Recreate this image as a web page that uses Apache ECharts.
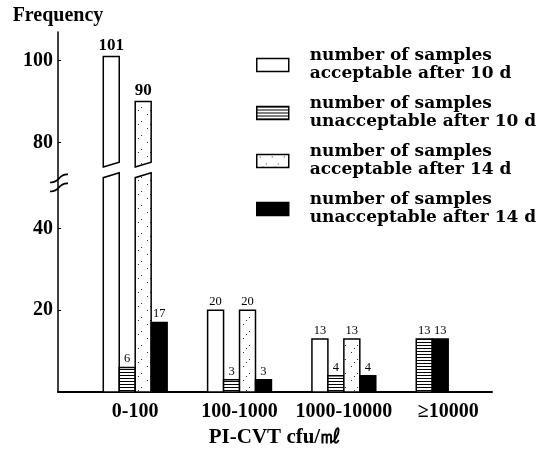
<!DOCTYPE html>
<html><head><meta charset="utf-8">
<script src="https://cdn.jsdelivr.net/npm/echarts@6/dist/echarts.min.js"></script>
<style>html,body{margin:0;padding:0;background:#fff}#c{width:543px;height:453px}</style>
</head><body><div id="c"></div>
<script>
const categories = ['0-100', '100-1000', '1000-10000', '\u226510000'];
const seriesNames = [
  'number of samples acceptable after 10 d',
  'number of samples unacceptable after 10 d',
  'number of samples acceptable after 14 d',
  'number of samples unacceptable after 14 d'
];
const acceptable10 = [101, 20, 13, 0];
const unacceptable10 = [6, 3, 4, 13];
const acceptable14 = [90, 20, 13, 0];
const unacceptable14 = [17, 3, 4, 13];
const yTickValues = [20, 40, 80, 100];
const breakFrom = 50, breakShift = 19;

const allValues = [acceptable10, unacceptable10, acceptable14, unacceptable14];
function toDisplay(v) { return v > breakFrom ? v - breakShift : v; }
function fromDisplay(d) { return d > breakFrom ? Math.round(d + breakShift) : Math.round(d); }

// slot arrangement: bars present in each category are packed from the left
const slots = categories.map((c, j) => allValues.map((a, i) => a[j] > 0 ? i : -1).filter(i => i >= 0));

function hatchCanvas() {
  const c = document.createElement('canvas'); c.width = 4; c.height = 3;
  const g = c.getContext('2d'); g.fillStyle = '#fff'; g.fillRect(0, 0, 4, 3);
  g.fillStyle = '#000'; g.fillRect(0, 0, 4, 1); return c;
}
function dotCanvas() {
  const c = document.createElement('canvas'); c.width = 12; c.height = 14;
  const g = c.getContext('2d'); g.fillStyle = '#fff'; g.fillRect(0, 0, 12, 14);
  g.fillStyle = '#333'; g.fillRect(3, 2, 1, 1); g.fillRect(9, 9, 1, 1); g.fillRect(6, 12, 1, 1);
  return c;
}
const fills = ['#fff', {image: hatchCanvas(), repeat: 'repeat'}, {image: dotCanvas(), repeat: 'repeat'}, '#000'];

function renderBar(params, api) {
  const si = params.seriesIndex;
  const cat = api.value(0), real = api.value(2);
  if (!real) return null;
  const slot = slots[cat].indexOf(si);
  const unit = api.size([1, 0])[0];
  const bw = unit * 0.153;
  const base = api.coord([cat, 0]);
  const x0 = base[0] - 2 * bw + slot * bw;
  const x1 = x0 + bw;
  const yB = base[1];
  const yT = api.coord([cat, api.value(1)])[1];
  const style = {fill: fills[si], stroke: '#000', lineWidth: 1.5};
  const children = [];
  if (real > breakFrom) {
    const yc = v => api.coord([cat, v])[1];
    children.push({type: 'polygon', shape: {points: [[x0, yB], [x1, yB], [x1, yc(53.6)], [x0, yc(52.4)]]}, style});
    children.push({type: 'polygon', shape: {points: [[x0, yc(55)], [x1, yc(56.2)], [x1, yT], [x0, yT]]}, style});
  } else {
    children.push({type: 'rect', shape: {x: x0, y: yT, width: bw, height: yB - yT}, style});
  }
  children.push({type: 'text', x: (x0 + x1) / 2, y: yT - 2, style: {
    text: String(real), align: 'center', verticalAlign: 'bottom', fill: '#000',
    font: real > breakFrom ? 'bold 17px "Liberation Serif"' : '12.5px "Liberation Serif"'}});
  return {type: 'group', children};
}

const chart = echarts.init(document.getElementById('c'), null, {renderer: 'canvas'});
const serif = '"Liberation Serif", serif';
chart.setOption({
  animation: false,
  textStyle: {fontFamily: serif, color: '#000'},
  grid: {left: 58, right: 51, top: 32, bottom: 60},
  legend: {
    orient: 'vertical', left: 251, top: 42, itemWidth: 32, itemHeight: 13, itemGap: 12,
    icon: 'rect', selectedMode: false,
    data: seriesNames.map((n, i) => ({name: n, itemStyle: {color: fills[i], borderColor: '#000', borderWidth: 1.5}})),
    formatter: n => n.replace('samples ', 'samples\n'),
    textStyle: {fontFamily: '"DejaVu Serif", serif', fontWeight: 'bold', fontSize: 17, lineHeight: 18, color: '#000', padding: [0, 0, 0, 16]}
  },
  xAxis: {
    type: 'value', min: -0.74, max: 3.42,
    splitLine: {show: false},
    axisLine: {show: true, onZero: false, lineStyle: {color: '#000', width: 2}},
    axisTick: {show: false},
    axisLabel: {customValues: categories.map((c, i) => i), formatter: v => categories[Math.round(v)] || '',
      fontFamily: serif, fontWeight: 'bold', fontSize: 20, color: '#000', margin: 10},
    name: 'PI-CVT cfu/\u3396', nameLocation: 'middle', nameGap: 34,
    nameTextStyle: {fontFamily: serif, fontWeight: 'bold', fontSize: 21, color: '#000'}
  },
  yAxis: {
    type: 'value', min: 0, max: 88,
    splitLine: {show: false},
    axisLine: {show: true, onZero: false, lineStyle: {color: '#000', width: 1.5}},
    axisTick: {show: true, inside: true, length: 3, customValues: yTickValues.map(toDisplay), lineStyle: {color: '#000'}},
    axisLabel: {customValues: yTickValues.map(toDisplay), formatter: d => String(fromDisplay(d)),
      fontFamily: serif, fontWeight: 'bold', fontSize: 20, color: '#000', margin: 5},
    name: 'Frequency', nameLocation: 'end', nameGap: 6,
    nameTextStyle: {fontFamily: serif, fontWeight: 'bold', fontSize: 20, color: '#000', align: 'center'}
  },
  series: seriesNames.map((n, i) => ({
    type: 'custom', name: n, renderItem: renderBar,
    itemStyle: {color: fills[i], borderColor: '#000', borderWidth: 1.5},
    encode: {x: 0, y: 1},
    data: categories.map((c, j) => [j, toDisplay(allValues[i][j]), allValues[i][j]])
  }))
});

// axis break mark
const p = chart.convertToPixel({xAxisIndex: 0, yAxisIndex: 0}, [-0.74, 51]);
const bx = p[0], by = p[1];
function sCurve(x, y) {
  return {type: 'bezierCurve', shape: {x1: x - 8, y1: y, x2: x + 10, y2: y - 8, cpx1: x + 2, cpy1: y + 1, cpx2: x, cpy2: y - 9},
    style: {stroke: '#000', lineWidth: 1.6, fill: null}};
}
chart.setOption({graphic: [
  {type: 'rect', shape: {x: bx - 2, y: by - 3, width: 4, height: 7}, style: {fill: '#fff'}},
  sCurve(bx, by - 1), sCurve(bx, by + 8)
]});
</script></body></html>
